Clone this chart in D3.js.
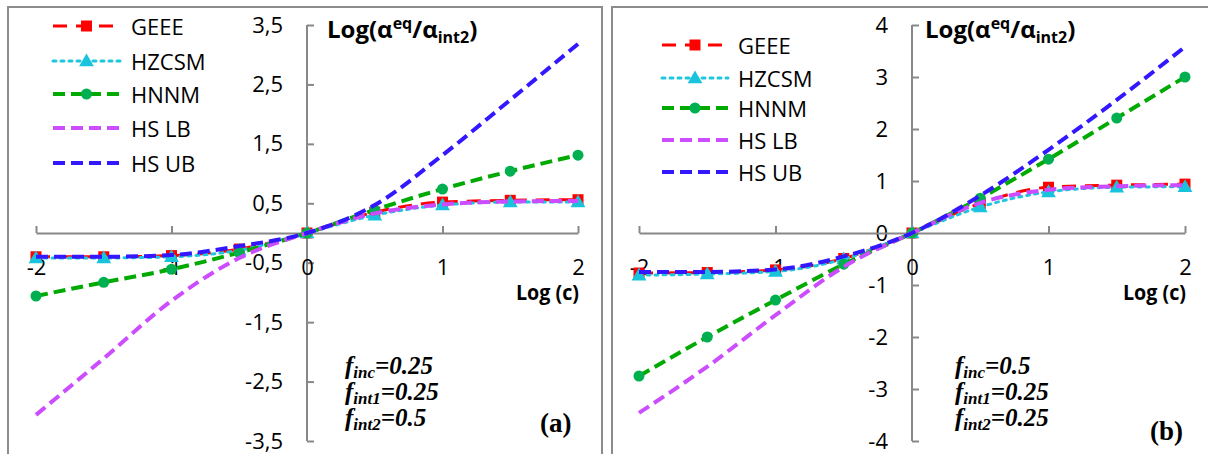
<!DOCTYPE html>
<html>
<head>
<meta charset="utf-8">
<script src="https://cdn.jsdelivr.net/npm/d3@7"></script>
<style>
  body { margin: 0; background: #fff; }
  svg { display: block; font-family: "Open Sans", sans-serif; }
</style>
</head>
<body>
<div id="chart"></div>
<script>
// x-Werte: Log (c)
const xVals = [-2, -1.5, -1, -0.5, 0, 0.5, 1, 1.5, 2];

// Panel (a)
const geeeA  = [-0.40, -0.40, -0.38, -0.27, 0, 0.35, 0.52, 0.55, 0.56];
const hzcsmA = [-0.42, -0.42, -0.40, -0.29, 0, 0.30, 0.47, 0.52, 0.52];
const hnnmA  = [-1.06, -0.83, -0.61, -0.33, 0, 0.39, 0.74, 1.04, 1.31];
const hslbA  = [-3.06, -2.11, -1.14, -0.42, 0, 0.33, 0.48, 0.53, 0.54];
const hsubA  = [-0.40, -0.40, -0.37, -0.22, 0, 0.47, 1.31, 2.24, 3.18];

// Panel (b)
const geeeB  = [-0.77, -0.76, -0.71, -0.49, 0, 0.57, 0.88, 0.92, 0.94];
const hzcsmB = [-0.81, -0.79, -0.74, -0.50, 0, 0.50, 0.79, 0.88, 0.89];
const hnnmB  = [-2.75, -2.00, -1.29, -0.60, 0, 0.67, 1.42, 2.21, 3.00];
const hslbB  = [-3.46, -2.57, -1.58, -0.65, 0, 0.58, 0.83, 0.90, 0.92];
const hsubB  = [-0.75, -0.75, -0.70, -0.45, 0, 0.72, 1.60, 2.56, 3.58];

const seriesNames = ["GEEE", "HZCSM", "HNNM", "HS LB", "HS UB"];

// Achsenbeschriftungen
const xTicks = [-2, -1, 0, 1, 2];
const xTickLabels = ["-2", "-1", "0", "1", "2"];
const yTicksA = [-3.5, -2.5, -1.5, -0.5, 0.5, 1.5, 2.5, 3.5];
const yTickLabelsA = ["-3,5", "-2,5", "-1,5", "-0,5", "0,5", "1,5", "2,5", "3,5"];
const yTicksB = [-4, -3, -2, -1, 0, 1, 2, 3, 4];
const yTickLabelsB = ["-4", "-3", "-2", "-1", "0", "1", "2", "3", "4"];

// Stil je Serie
const styles = {
  "GEEE":  { color: "#ff0000", width: 3,   dash: "14,9", marker: "square",   mcolor: "#ff0000" },
  "HZCSM": { color: "#1fc6de", width: 3,   dash: "3,5",  marker: "triangle", mcolor: "#19c3dc" },
  "HNNM":  { color: "#00aa00", width: 4,   dash: "12,6", marker: "circle",   mcolor: "#00b050" },
  "HS LB": { color: "#cc4cff", width: 4,   dash: "12,6", marker: null },
  "HS UB": { color: "#3318ff", width: 4,   dash: "12,6", marker: null }
};

const svg = d3.select("#chart").append("svg")
  .attr("width", 1208)
  .attr("height", 454);

function drawMarker(g, type, x, y, color) {
  if (type === "square") {
    g.append("rect").attr("x", x - 5.5).attr("y", y - 5.5)
      .attr("width", 11).attr("height", 11).attr("fill", color);
  } else if (type === "triangle") {
    g.append("path")
      .attr("d", d3.symbol().type(d3.symbolTriangle).size(95)())
      .attr("transform", `translate(${x},${y + 1})`)
      .attr("fill", color);
  } else if (type === "circle") {
    g.append("circle").attr("cx", x).attr("cy", y).attr("r", 5.5).attr("fill", color);
  }
}

function drawPanel(cfg) {
  const g = svg.append("g");

  // Rahmen
  g.append("rect")
    .attr("x", cfg.frame[0]).attr("y", 7)
    .attr("width", cfg.frame[1] - cfg.frame[0]).attr("height", 470)
    .attr("fill", "none").attr("stroke", "#8c8c8c").attr("stroke-width", 2);

  const x = d3.scaleLinear().domain([-2, 2]).range(cfg.xRange);
  const y = d3.scaleLinear().domain(cfg.yDomain).range([441, 25]);

  // y-Achse (Ticks nach innen)
  const yAxis = d3.axisLeft(y)
    .tickValues(cfg.yTicks)
    .tickFormat((d, i) => cfg.yTickLabels[i])
    .tickSizeInner(-7).tickSizeOuter(0).tickPadding(24);
  const gy = g.append("g").attr("transform", `translate(${x(0)},0)`).call(yAxis);
  gy.select(".domain").attr("d", `M0,${y(cfg.yDomain[1])}V${y(cfg.yDomain[0])}`);

  // x-Achse
  const xAxis = d3.axisBottom(x)
    .tickValues(xTicks)
    .tickFormat((d, i) => xTickLabels[i])
    .tickSizeInner(-7).tickSizeOuter(0).tickPadding(26);
  const gx = g.append("g").attr("transform", `translate(0,${y(0)})`).call(xAxis);

  [gx, gy].forEach(a => {
    a.selectAll("path, line").attr("stroke", "#888").attr("stroke-width", 2);
    a.selectAll("text").attr("font-size", 22).attr("fill", "#000")
      .attr("font-family", "'Open Sans', sans-serif");
  });

  // Linien
  const line = d3.line()
    .x((d, i) => x(xVals[i]))
    .y(d => y(d))
    .curve(d3.curveMonotoneX);

  seriesNames.forEach((name, k) => {
    const s = styles[name];
    const vals = cfg.data[k];
    g.append("path")
      .datum(vals)
      .attr("d", line)
      .attr("fill", "none")
      .attr("stroke", s.color)
      .attr("stroke-width", s.width)
      .attr("stroke-dasharray", s.dash)
      .attr("stroke-linecap", name === "HZCSM" ? "round" : "butt");
    if (s.marker) {
      vals.forEach((v, i) => drawMarker(g, s.marker, x(xVals[i]), y(v), s.mcolor));
    }
  });

  // Legende
  seriesNames.forEach((name, k) => {
    const s = styles[name];
    const ly = cfg.legend.rows[k];
    g.append("line")
      .attr("x1", cfg.legend.x0).attr("x2", cfg.legend.x1)
      .attr("y1", ly).attr("y2", ly)
      .attr("stroke", s.color).attr("stroke-width", s.width)
      .attr("stroke-dasharray", s.dash)
      .attr("stroke-linecap", name === "HZCSM" ? "round" : "butt");
    if (s.marker) drawMarker(g, s.marker, (cfg.legend.x0 + cfg.legend.x1) / 2, ly, s.mcolor);
    g.append("text")
      .attr("x", cfg.legend.tx).attr("y", ly)
      .attr("dominant-baseline", "central")
      .attr("font-size", 22)
      .text(name);
  });

  // Titel der y-Achse
  const t = g.append("text")
    .attr("x", cfg.titleX).attr("y", 38)
    .attr("font-size", 24).attr("font-weight", "bold");
  t.append("tspan").text("Log(α");
  t.append("tspan").attr("font-size", 16).attr("dy", -9).text("eq");
  t.append("tspan").attr("dy", 9).text("/α");
  t.append("tspan").attr("font-size", 16).attr("dy", 5).text("int2");
  t.append("tspan").attr("dy", -5).text(")");

  // Titel der x-Achse
  g.append("text")
    .attr("x", cfg.xRange[1] + 1).attr("y", 300)
    .attr("text-anchor", "end")
    .attr("font-size", 21).attr("font-weight", "bold")
    .attr("textLength", 63).attr("lengthAdjust", "spacingAndGlyphs")
    .text("Log (c)");

  // Parameter
  cfg.params.forEach((p, i) => {
    const pt = g.append("text")
      .attr("x", cfg.paramX).attr("y", [374, 400, 426][i])
      .attr("font-family", "'Liberation Serif', 'Times New Roman', serif")
      .attr("font-style", "italic").attr("font-weight", "bold")
      .attr("font-size", 25);
    pt.append("tspan").text("f");
    pt.append("tspan").attr("font-size", 17).attr("dy", 4).text(p[0]);
    pt.append("tspan").attr("dy", -4).text("=" + p[1]);
  });

  g.append("text")
    .attr("x", cfg.tag[0]).attr("y", cfg.tag[1])
    .attr("font-family", "'Liberation Serif', 'Times New Roman', serif")
    .attr("font-weight", "bold").attr("font-size", 27)
    .text(cfg.tag[2]);
}

drawPanel({
  frame: [8, 602],
  xRange: [36, 578],
  yDomain: [-3.5, 3.5],
  yTicks: yTicksA,
  yTickLabels: yTickLabelsA,
  data: [geeeA, hzcsmA, hnnmA, hslbA, hsubA],
  legend: { x0: 53, x1: 120, tx: 131, rows: [26, 61, 94, 128, 163] },
  titleX: 327,
  paramX: 345,
  params: [["inc", "0.25"], ["int1", "0.25"], ["int2", "0.5"]],
  tag: [540, 432, "(a)"]
});

drawPanel({
  frame: [612, 1230],
  xRange: [639, 1185],
  yDomain: [-4, 4],
  yTicks: yTicksB,
  yTickLabels: yTickLabelsB,
  data: [geeeB, hzcsmB, hnnmB, hslbB, hsubB],
  legend: { x0: 662, x1: 728, tx: 738, rows: [45, 78, 108, 140, 172] },
  titleX: 925,
  paramX: 955,
  params: [["inc", "0.5"], ["int1", "0.25"], ["int2", "0.25"]],
  tag: [1150, 440, "(b)"]
});
</script>
</body>
</html>
